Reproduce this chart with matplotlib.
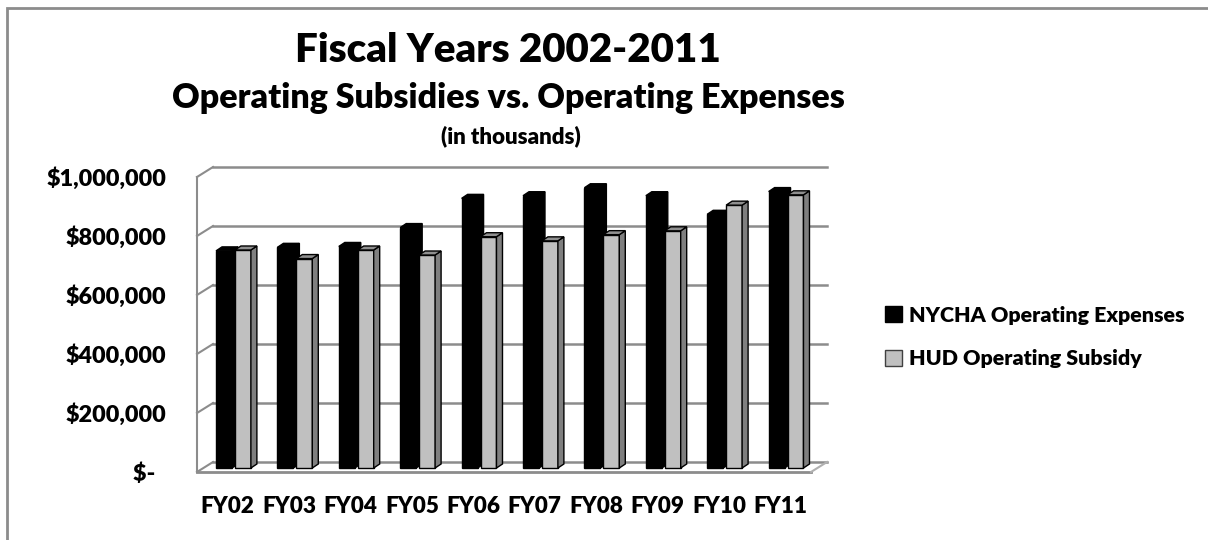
import matplotlib
matplotlib.use("Agg")
import matplotlib.pyplot as plt
from matplotlib.patches import Polygon, Rectangle, Patch

# values in thousands of dollars
years = ["FY02", "FY03", "FY04", "FY05", "FY06", "FY07", "FY08", "FY09", "FY10", "FY11"]
nycha_expenses = [736000, 748000, 751000, 815000, 914000, 923000, 950000, 923000, 860000, 937000]
hud_subsidy = [739000, 710000, 739000, 722000, 784000, 770000, 791000, 804000, 891000, 926000]
y_ticks = [0, 200000, 400000, 600000, 800000, 1000000]
y_labels = ["$-  ", "$200,000", "$400,000", "$600,000", "$800,000", "$1,000,000"]

plt.rcParams['font.family'] = ['Lato', 'DejaVu Sans']
wt = 'heavy'

W, H = 1208, 540
fig = plt.figure(figsize=(W / 100, H / 100), dpi=100)
# front plane of the fake 3d box
ax = fig.add_axes([197 / W, (H - 472) / H, (811 - 197) / W, (472 - 177) / H])
n = len(years)
ax.set_xlim(0, n)
ax.set_ylim(0, 1000000)
for s in ax.spines.values():
    s.set_visible(False)

# pixel -> data conversion for depth offsets
sx = (811 - 197) / n
sy = (472 - 177) / 1000000
wall_dx, wall_dy = 16 / sx, 10 / sy
bar_dx, bar_dy = 6 / sx, 4 / sy

grid_c = '#8c8c8c'
for v in y_ticks:
    ax.plot([wall_dx, n + wall_dx], [v + wall_dy, v + wall_dy], color=grid_c, lw=1.8, clip_on=False, zorder=1)
    ax.plot([0, wall_dx], [v, v + wall_dy], color=grid_c, lw=1.5, clip_on=False, zorder=1)
ax.plot([0, 0], [0, 1000000], color=grid_c, lw=1.5, clip_on=False, zorder=1)
# floor
ax.plot([0, n], [0, 0], color=grid_c, lw=2, clip_on=False, zorder=1)
ax.plot([n, n + wall_dx], [0, wall_dy], color='#b0b0b0', lw=1.5, clip_on=False, zorder=1)


def bar3d(x0, w, v, front, side, top, edge):
    x0 = x0 + bar_dx
    y0 = bar_dy
    faces = [
        ([(x0, y0), (x0 + w, y0), (x0 + w, y0 + v), (x0, y0 + v)], front),
        ([(x0 + w, y0), (x0 + w + bar_dx, y0 + bar_dy), (x0 + w + bar_dx, y0 + v + bar_dy), (x0 + w, y0 + v)], side),
        ([(x0, y0 + v), (x0 + w, y0 + v), (x0 + w + bar_dx, y0 + v + bar_dy), (x0 + bar_dx, y0 + v + bar_dy)], top),
    ]
    for pts, c in faces:
        ax.add_patch(Polygon(pts, closed=True, facecolor=c, edgecolor=edge, lw=1, zorder=3, clip_on=False))


w = 0.26
for i in range(n):
    c = i + 0.5
    bar3d(c - 0.288, w, nycha_expenses[i], 'black', 'black', 'black', 'black')
    bar3d(c + 0.02, w, hud_subsidy[i], '#c0c0c0', '#7f7f7f', '#8f8f8f', 'black')

ax.set_yticks(y_ticks)
ax.set_yticklabels(y_labels, fontsize=16.8, fontweight=wt)
ax.set_xticks([i + 0.5 for i in range(n)])
ax.set_xticklabels(years, fontsize=16.2, fontweight=wt)
ax.tick_params(axis='y', length=0, pad=22)
ax.tick_params(axis='x', length=0, pad=17)

fig.text(508 / W, 1 - 50 / H, "Fiscal Years 2002-2011", ha='center', va='center', fontsize=29, fontweight=wt)
fig.text(508 / W, 1 - 98 / H, "Operating Subsidies vs. Operating Expenses", ha='center', va='center', fontsize=24.5, fontweight=wt)
fig.text(511 / W, 1 - 136 / H, "(in thousands)", ha='center', va='center', fontsize=16, fontweight=wt)

handles = [Patch(facecolor='black', edgecolor='black', label='NYCHA Operating Expenses'),
           Patch(facecolor='#c0c0c0', edgecolor='#404040', label='HUD Operating Subsidy')]
fig.legend(handles=handles, loc='center left', bbox_to_anchor=(866 / W, 1 - 337 / H), frameon=False,
           prop={'size': 15.4, 'weight': wt}, handlelength=0.8, handleheight=0.8, handletextpad=0.3,
           labelspacing=1.15)

fig.add_artist(Rectangle((7 / W, -0.05), 1.1, (H - 8) / H + 0.05, transform=fig.transFigure,
                         fill=False, edgecolor='#8c8c8c', lw=2))

fig.savefig("out.png", dpi=100)
